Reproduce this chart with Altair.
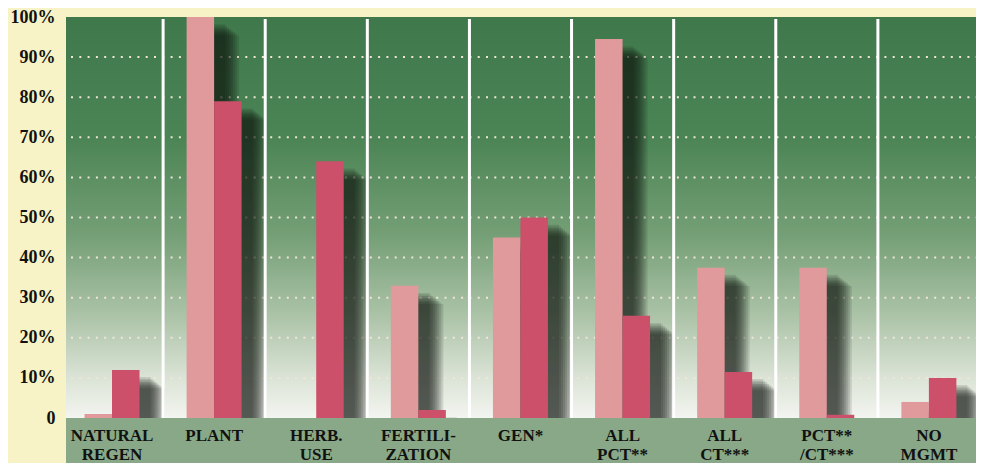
import altair as alt
import pandas as pd

categories = ["NATURAL|REGEN", "PLANT", "HERB.|USE", "FERTILI-|ZATION", "GEN*",
              "ALL|PCT**", "ALL|CT***", "PCT**|/CT***", "NO|MGMT"]
light_vals = [1, 100, 0, 33, 45, 94.5, 37.5, 37.5, 4]
dark_vals = [12, 79, 64, 2, 50, 25.5, 11.5, 0.8, 10]
series_names = ["light", "dark"]
series_colors = ["#e09a9b", "#cc5069"]
y_ticks = [0, 10, 20, 30, 40, 50, 60, 70, 80, 90, 100]
grid_vals = [10, 20, 30, 40, 50, 60, 70, 80, 90]

rows = []
for c, l, d in zip(categories, light_vals, dark_vals):
    rows.append({"cat": c, "series": "light", "value": l})
    rows.append({"cat": c, "series": "dark", "value": d})
df = pd.DataFrame(rows)
sep_df = pd.DataFrame({"cat": categories[1:]})
grid_df = pd.DataFrame({"value": grid_vals})
one_df = pd.DataFrame({"a": [0]})

W, H = 910, 401
FONT = "Liberation Serif"
BAR_L, BAR_R = 23.5, 78.5   # pixel span of the bar pair inside each category band

x_scale = alt.Scale(domain=categories, range=[-5, 914], paddingInner=0, paddingOuter=0)
y_scale = alt.Scale(domain=[0, 100], nice=False)

x_axis = alt.Axis(title=None, labelExpr="split(datum.label, '|')", labelFont=FONT,
                  labelFontSize=17, labelFontWeight="bold", labelColor="#111111",
                  labelPadding=9, labelLineHeight=19, labelAngle=0, labelBaseline="top",
                  ticks=False, domain=False, grid=False, zindex=1)
y_axis = alt.Axis(title=None, values=y_ticks,
                  labelExpr="datum.value == 0 ? '0' : datum.value + '%'",
                  labelFont=FONT, labelFontSize=18, labelFontWeight="bold",
                  labelColor="#111111", labelPadding=11, ticks=False, domain=False,
                  grid=False, zindex=1)

X = alt.X("cat:N", scale=x_scale, axis=x_axis)
Y = alt.Y("value:Q", scale=y_scale, axis=y_axis)


def xo(shift):
    return alt.XOffset("series:N", scale=alt.Scale(domain=series_names,
                                                   range=[BAR_L + shift, BAR_R + shift],
                                                   paddingInner=0, paddingOuter=0))


bg_grad = alt.LinearGradient(
    gradient="linear", x1=0, x2=0, y1=0, y2=1,
    stops=[alt.GradientStop(color="#3f784b", offset=0),
           alt.GradientStop(color="#4b8455", offset=0.3),
           alt.GradientStop(color="#76a077", offset=0.55),
           alt.GradientStop(color="#adc4a9", offset=0.75),
           alt.GradientStop(color="#dbe3d6", offset=0.9),
           alt.GradientStop(color="#f3f5f0", offset=1)])
background = alt.Chart(one_df).mark_rect(color=bg_grad).encode(
    x=alt.value(0), x2=alt.value(W), y=alt.value(0), y2=alt.value(H))

grid = alt.Chart(grid_df).mark_rule(color="#efe6d6", strokeWidth=2,
                                    strokeDash=[2, 6.3]).encode(
    y=Y, x=alt.value(5), x2=alt.value(W))

shadows = []
shadow_layers = [(11, 1.8, 0.12), (13, 2.2, 0.13), (15, 2.6, 0.14), (17, 3.0, 0.15),
                 (19, 3.4, 0.15), (21, 3.8, 0.14), (23, 4.2, 0.13), (25, 4.6, 0.12)]
for dx, drop, op in shadow_layers:
    shadows.append(
        alt.Chart(df).transform_calculate(
            sv=f"max(datum.value - {drop}, 0)"
        ).mark_bar(color="#0f140f", opacity=op).encode(
            x=X, xOffset=xo(dx),
            y=alt.Y("sv:Q", scale=y_scale, axis=y_axis)))

bars = alt.Chart(df).mark_bar().encode(
    x=X, xOffset=xo(0), y=Y,
    color=alt.Color("series:N", scale=alt.Scale(domain=series_names, range=series_colors),
                    legend=None))

seps = alt.Chart(sep_df).mark_rule(color="white", strokeWidth=3).encode(
    x=alt.X("cat:N", scale=x_scale, axis=x_axis, bandPosition=0),
    y=alt.value(2), y2=alt.value(H))

band = alt.Chart(one_df).mark_rect(color="#88a888").encode(
    x=alt.value(0), x2=alt.value(W), y=alt.value(H), y2=alt.value(H + 60))

chart = alt.layer(background, grid, *shadows, bars, seps, band).resolve_scale(
    xOffset="independent"
).properties(
    width=W, height=H,
    autosize=alt.AutoSizeParams(type="none"),
    padding={"left": 58, "top": 9, "right": 0, "bottom": 45},
    background="#f7f3c6",
).configure_view(stroke=None)

chart.save("out.html", embed_options={"renderer": "svg", "actions": False})
